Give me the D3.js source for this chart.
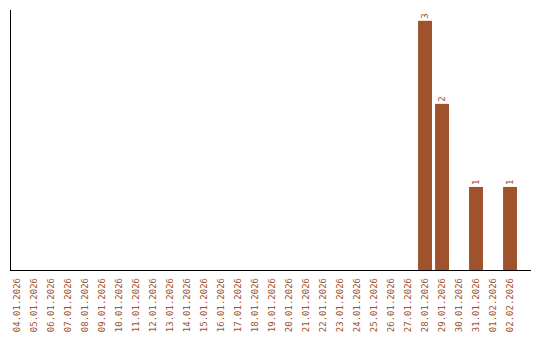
<!DOCTYPE html>
<html>
<head>
<meta charset="utf-8">
<script src="https://cdn.jsdelivr.net/npm/d3@7"></script>
<style>
  body { margin: 0; background: #fff; }
  text { font-family: "DejaVu Sans Mono", monospace; font-size: 9px; fill: #a0522d; }
</style>
</head>
<body>
<svg id="chart" width="540" height="340"></svg>
<script>
var dates = ["04.01.2026","05.01.2026","06.01.2026","07.01.2026","08.01.2026","09.01.2026",
             "10.01.2026","11.01.2026","12.01.2026","13.01.2026","14.01.2026","15.01.2026",
             "16.01.2026","17.01.2026","18.01.2026","19.01.2026","20.01.2026","21.01.2026",
             "22.01.2026","23.01.2026","24.01.2026","25.01.2026","26.01.2026","27.01.2026",
             "28.01.2026","29.01.2026","30.01.2026","31.01.2026","01.02.2026","02.02.2026"];
var counts = [0,0,0,0,0,0,0,0,0,0,0,0,0,0,0,0,0,0,0,0,0,0,0,0,3,2,0,1,0,1];

var svg = d3.select("#chart"),
    plotLeft = 10, plotTop = 10, plotBottom = 270, plotRight = 531;

var x = d3.scaleBand()
    .domain(dates)
    .range([plotLeft, 517])
    .paddingInner(0.18)
    .paddingOuter(0);

var y = d3.scaleLinear()
    .domain([0, 3.13])
    .range([plotBottom, plotTop]);

var data = dates.map(function(d, i) { return {date: d, n: counts[i]}; });
var nonZero = data.filter(function(d) { return d.n > 0; });

// bars
svg.selectAll("rect.bar")
  .data(nonZero)
  .enter().append("rect")
    .attr("class", "bar")
    .attr("x", function(d) { return x(d.date); })
    .attr("y", function(d) { return y(d.n); })
    .attr("width", x.bandwidth())
    .attr("height", function(d) { return y(0) - y(d.n); })
    .attr("fill", "#a0522d");

// value labels
svg.selectAll("text.val")
  .data(nonZero)
  .enter().append("text")
    .attr("class", "val")
    .attr("transform", function(d) {
      return "translate(" + (x(d.date) + x.bandwidth() / 2) + "," + (y(d.n) - 2) + ") rotate(-90)";
    })
    .attr("dy", "0.35em")
    .attr("text-anchor", "start")
    .text(function(d) { return d.n; });

// date labels
svg.selectAll("text.date")
  .data(dates)
  .enter().append("text")
    .attr("class", "date")
    .attr("transform", function(d) {
      return "translate(" + (x(d) + x.bandwidth() / 2) + "," + (plotBottom + 8) + ") rotate(-90)";
    })
    .attr("dy", "0.35em")
    .attr("text-anchor", "end")
    .text(function(d) { return d; });

// axis lines
svg.append("line")
    .attr("x1", plotLeft + 0.5).attr("x2", plotLeft + 0.5)
    .attr("y1", plotTop).attr("y2", plotBottom)
    .attr("stroke", "#000");
svg.append("line")
    .attr("x1", plotLeft).attr("x2", plotRight)
    .attr("y1", plotBottom + 0.5).attr("y2", plotBottom + 0.5)
    .attr("stroke", "#000");
</script>
</body>
</html>
